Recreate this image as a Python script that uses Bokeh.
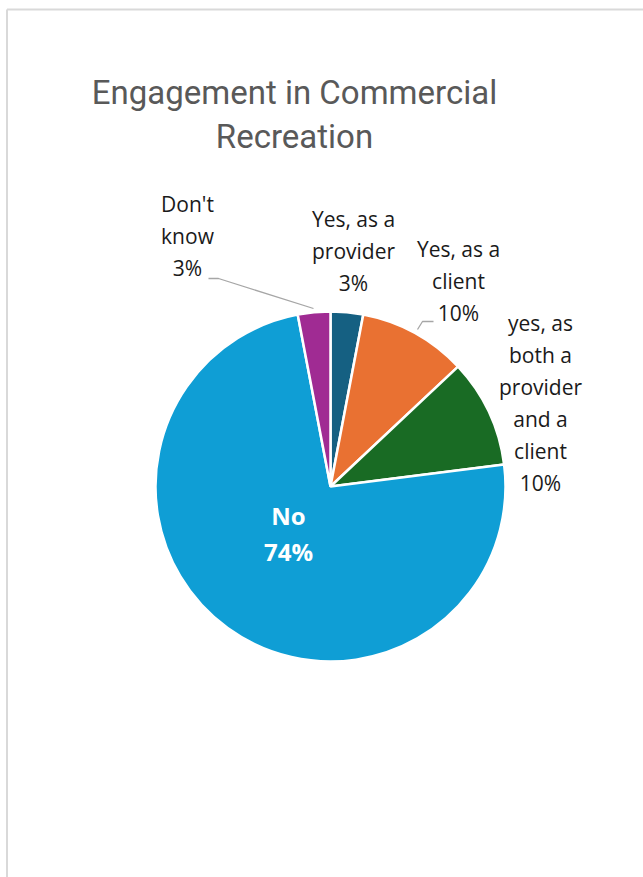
import math
from bokeh.plotting import figure
from bokeh.models import Range1d
from bokeh.core.properties import value
from bokeh.embed import file_html
from bokeh.resources import INLINE

# ---- data ----
categories = ["Yes, as a provider", "Yes, as a client", "yes, as both a provider and a client", "No", "Don't know"]
shares = [3, 10, 10, 74, 3]
colors = ["#156082", "#E97132", "#196B24", "#0F9ED5", "#A02B93"]
label_texts = ["Yes, as a\nprovider", "Yes, as a\nclient", "yes, as\nboth a\nprovider\nand a\nclient", "No", "Don't\nknow"]
title_lines = ["Engagement in Commercial", "Recreation"]

W, H = 643, 877
LABEL_FONT = "Open Sans"
TITLE_FONT = "Roboto"
TDY = -10  # text vertical adjustment

def px(x):
    return x

def py(y):
    return H - y

p = figure(width=W, height=H, output_backend="svg", toolbar_location=None,
           x_range=Range1d(0, W), y_range=Range1d(0, H), min_border=0)
p.axis.visible = False
p.grid.visible = False
p.outline_line_color = None
p.background_fill_color = "white"
p.border_fill_color = "white"

# chart area border (left and top edges visible)
p.segment(x0=[6.5, 6.5], y0=[py(9), py(9)], x1=[6.5, W + 5], y1=[-5, py(9)],
          line_color="#D9D9D9", line_width=2)

# pie
total = sum(shares)
cx, cy, r = px(330), py(486), 175
starts, ends = [], []
cum = 0.0
for s in shares:
    a0 = math.pi / 2 - 2 * math.pi * (cum + s) / total
    a1 = math.pi / 2 - 2 * math.pi * cum / total
    starts.append(a0)
    ends.append(a1)
    cum += s
p.wedge(x=[cx] * len(shares), y=[cy] * len(shares), radius=r,
        start_angle=starts, end_angle=ends, fill_color=colors,
        line_color="white", line_width=2.5)

# leader lines
p.line(x=[px(208), px(218), px(313)], y=[py(278), py(278), py(308)], line_color="#A6A6A6", line_width=1.3)
p.line(x=[px(433), px(422), px(417)], y=[py(321), py(321), py(329)], line_color="#A6A6A6", line_width=1.3)

# title
title_pos = [(294, 100), (294, 144)]
for t, (x, y) in zip(title_lines, title_pos):
    p.text(x=[px(x)], y=[py(y - 8)], text=[t], text_font=value(TITLE_FONT), text_font_size="33px",
           text_color="#595959", text_align="center", text_baseline="alphabetic")

# data labels (anchor = center x, baseline of first line)
anchors = [(353, 228), (458, 258), (540, 332), (288, 525), (187, 213)]
spacing = 32
for name, s, (x, y) in zip(label_texts, shares, anchors):
    lines = name.split("\n") + [f"{s}%"]
    is_no = name == "No"
    for i, ln in enumerate(lines):
        p.text(x=[px(x)], y=[py(y + TDY + i * (36 if is_no else spacing))], text=[ln],
               text_font=value(LABEL_FONT), text_font_size="24px" if is_no else "21px",
               text_font_style="bold" if is_no else "normal",
               text_color="white" if is_no else "#1A1A1A",
               text_align="center", text_baseline="alphabetic")

open("out.html", "w").write(file_html(p, INLINE))
